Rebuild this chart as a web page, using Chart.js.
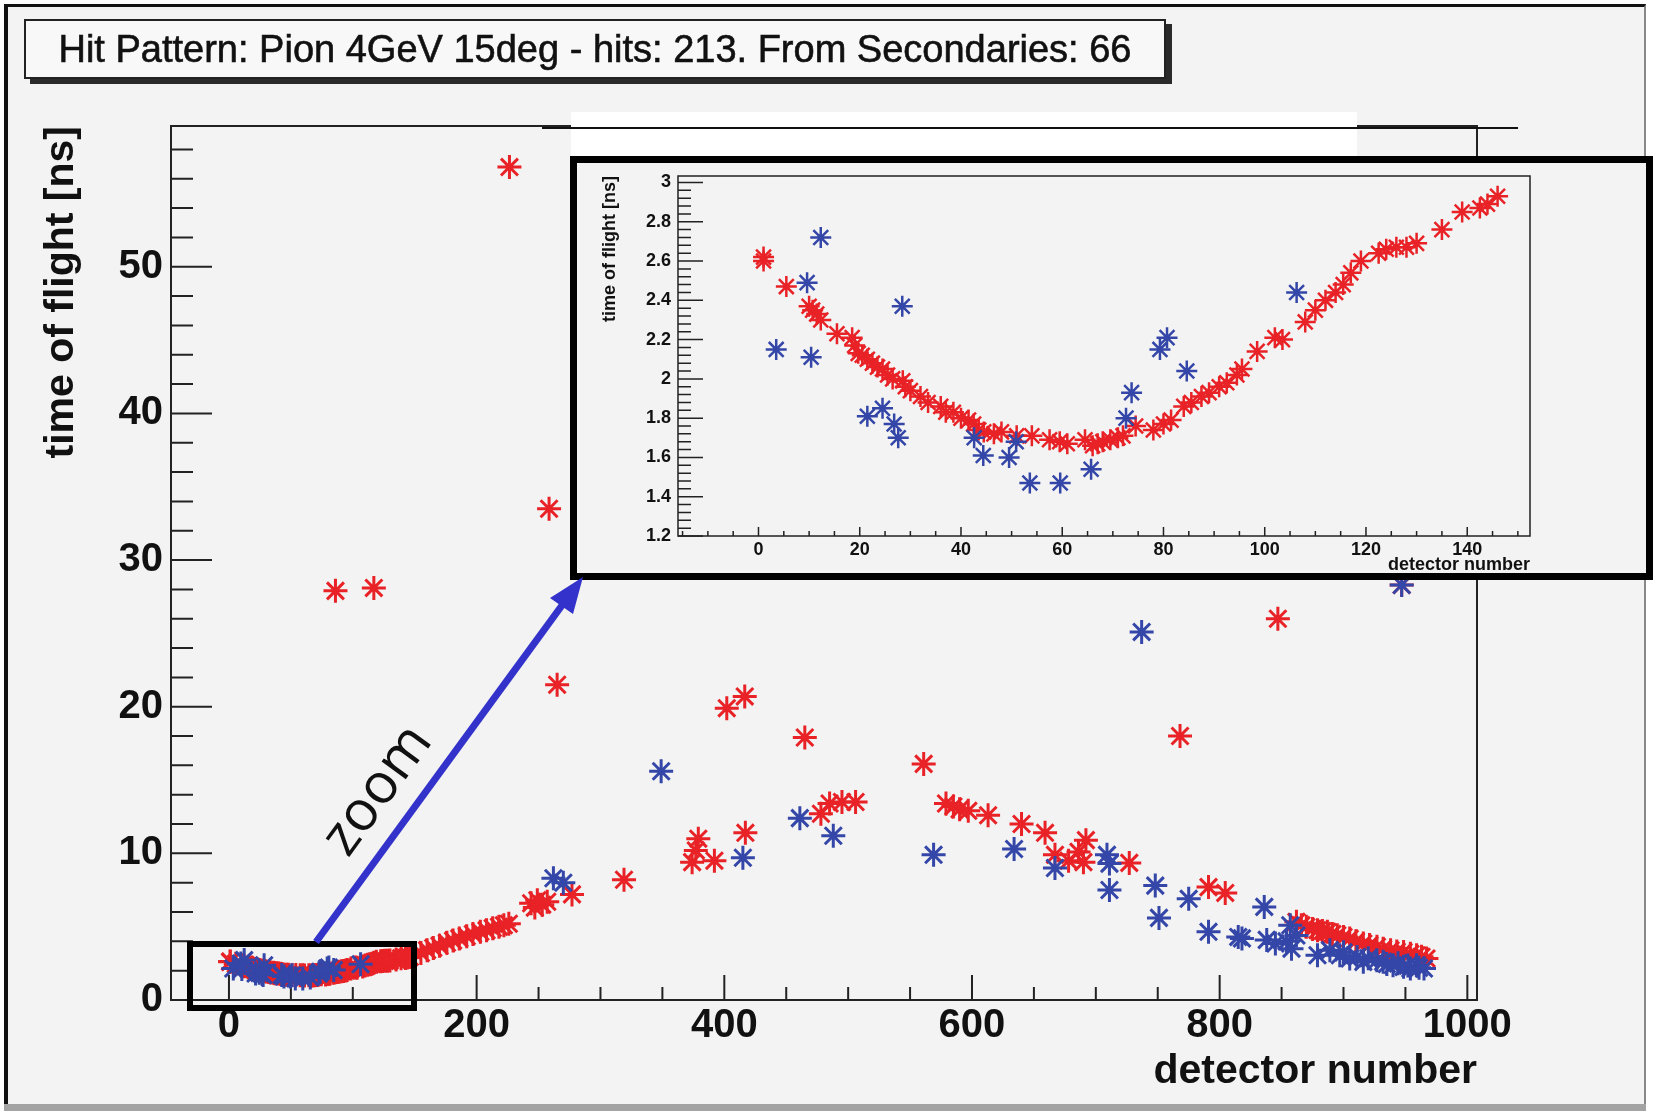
<!DOCTYPE html>
<html>
<head>
<meta charset="utf-8">
<title>Hit Pattern</title>
<script src="https://cdn.jsdelivr.net/npm/chart.js@4.4.1/dist/chart.umd.min.js"></script>
<style>
  html, body { margin: 0; padding: 0; background: #fff; }
  #page { position: relative; width: 1653px; height: 1111px; overflow: hidden; }
  #page > * { position: absolute; box-sizing: border-box; }
  #frame { left: 4px; top: 4px; width: 1642px; height: 1100px; background: #f3f3f3;
           border-left: 4px solid #111; border-top: 3px solid #111; border-right: 2px solid #888; }
  #bottomBand { left: 4px; top: 1104px; width: 1642px; height: 7px; background: #a3a3a3; }
  #mainChart { left: 0; top: 0; }
  #titleBox { left: 24px; top: 19px; width: 1142px; height: 60px; border: 2px solid #222;
              background: #f8f8f8; box-shadow: 6px 5px 0 #2a2a2a; text-align: center;
              font: 38px 'Liberation Sans', Arial, sans-serif; line-height: 56px; color: #111;
              -webkit-text-stroke: 0.6px #111; }
  #strip { left: 571px; top: 112px; width: 786px; height: 44px; background: #fff; }
  #stripLine { left: 542px; top: 127px; width: 976px; height: 2px; background: #111; }
  #zoomChart { left: 577px; top: 163px; background: #f3f3f3; }
  #insetBorder { left: 570px; top: 156px; width: 1083px; height: 424px; border: 7px solid #000; }
  #zoomRect { left: 187px; top: 941px; width: 230px; height: 70px; border: 6px solid #000; }
  #arrow { left: 0; top: 0; }
  #zoomLabel { left: 373px; top: 787px; transform: translate(-50%, -50%) rotate(-54deg);
               font: 56px 'Open Sans', Lato, sans-serif; line-height: 1; color: #111; white-space: nowrap; }
</style>
</head>
<body>
<div id="page">
  <div id="frame"></div>
  <div id="bottomBand"></div>
  <canvas id="mainChart" width="1653" height="1111"></canvas>
  <div id="titleBox"></div>
  <div id="strip"></div>
  <div id="stripLine"></div>
  <canvas id="zoomChart" width="1069" height="410"></canvas>
  <div id="insetBorder"></div>
  <div id="zoomRect"></div>
  <svg id="arrow" width="1653" height="1111">
    <line x1="316" y1="942" x2="563" y2="604" stroke="#3333cc" stroke-width="7"/>
    <polygon points="583,577 573,614 550,598" fill="#3333cc"/>
  </svg>
  <div id="zoomLabel">zoom</div>
</div>
<script>
const TITLE = "Hit Pattern: Pion 4GeV 15deg - hits: 213. From Secondaries: 66";
const X_TITLE = "detector number";
const Y_TITLE = "time of flight [ns]";

// primary hits (red)
const primDetector = [
  1, 1, 5.5, 10, 10.7, 11.5, 12.3, 15.5, 18.5, 19, 19.7, 20.5, 21.5, 22.5, 23.5, 24.5,
  25.5, 26.5, 28.5, 29, 30, 32, 33.5, 36, 37, 38.5, 40, 41.5, 42.5, 43.5, 44.5, 46.5,
  48, 51, 54, 57.5, 59.5, 61, 64.5, 66, 67, 68, 69.5, 71, 72, 74.5, 78, 80,
  81.5, 84, 85.5, 87.5, 89, 91, 92.5, 94.5, 95.5, 98.5, 102, 103.5, 108, 110,
  112, 114, 115.5, 117, 119, 122.5, 124, 126, 128, 130, 135, 139, 142.5, 144, 146,
  155, 160, 165, 170, 176, 181, 186, 192, 197, 203, 208, 213, 218, 222, 226,
  244, 247, 249, 253, 257,
  86, 117, 226.5, 258.5, 265, 277, 319, 374, 377, 379, 392, 402, 416.5, 417, 465, 478,
  485, 495, 506, 561, 579, 585, 590, 597, 613, 640, 659, 667, 678, 686, 690, 692,
  727, 768, 791, 804.5, 847, 947,
  862, 866, 870, 875, 879, 883, 887, 891, 895, 900, 905, 910, 916, 921, 927, 932,
  938, 943, 948.5, 954, 959, 963, 967
];
const primTof = [
  2.62, 2.60, 2.47, 2.37, 2.35, 2.33, 2.30, 2.23, 2.21, 2.17, 2.13, 2.12, 2.10, 2.08, 2.06, 2.05,
  2.02, 2.00, 1.99, 1.96, 1.94, 1.91, 1.88, 1.86, 1.83, 1.83, 1.80, 1.79, 1.77, 1.74, 1.73, 1.72,
  1.73, 1.71, 1.71, 1.69, 1.68, 1.67, 1.69, 1.66, 1.67, 1.68, 1.69, 1.70, 1.71, 1.76, 1.74, 1.77,
  1.79, 1.86, 1.88, 1.91, 1.93, 1.96, 1.98, 2.02, 2.05, 2.14, 2.21, 2.20, 2.29, 2.35,
  2.40, 2.44, 2.48, 2.54, 2.60, 2.64, 2.66, 2.67, 2.67, 2.69, 2.76, 2.85, 2.87, 2.89, 2.93,
  3.2, 3.4, 3.55, 3.7, 3.9, 4.05, 4.2, 4.35, 4.5, 4.65, 4.75, 4.9, 5.0, 5.1, 5.2,
  6.6, 6.3, 6.8, 6.5, 6.7,
  27.9, 28.1, 56.8, 33.5, 21.5, 7.2, 8.2, 9.4, 10.2, 11.0, 9.5, 19.9, 20.7, 11.4, 17.9, 12.7,
  13.4, 13.5, 13.5, 16.1, 13.4, 13.2, 13.0, 12.9, 12.6, 12.0, 11.4, 9.9, 9.5, 10.1, 9.4, 10.9,
  9.35, 18.0, 7.7, 7.3, 26.0, 28.3,
  5.33, 5.1, 4.99, 4.85, 4.76, 4.7, 4.65, 4.5, 4.42, 4.3, 4.19, 4.0, 3.85, 3.75, 3.63, 3.5,
  3.39, 3.3, 3.28, 3.15, 3.05, 2.95, 2.83
];

// hits from secondaries (blue)
const secDetector = [
  3.5, 9.6, 10.4, 12.3, 21.5, 24.5, 26.8, 27.6, 28.4, 42.6, 44.4, 49.5, 50.9, 53.6, 59.6, 65.7,
  72.6, 73.7, 79.3, 80.7, 84.6, 106.3,
  262, 270, 349, 415, 461, 488, 569, 634, 667, 709, 711, 711, 737, 748, 751, 775,
  791, 815, 818, 836, 838, 845, 854, 857, 858, 862, 879, 889, 897, 900, 905, 911,
  916, 920, 927, 932, 935, 940, 944, 947, 948.5, 952, 954, 959, 961, 965
];
const secTof = [
  2.15, 2.49, 2.11, 2.72, 1.81, 1.85, 1.77, 1.70, 2.37, 1.70, 1.61, 1.60, 1.68, 1.47, 1.47, 1.54,
  1.80, 1.93, 2.15, 2.21, 2.04, 2.44,
  8.3, 8.0, 15.6, 9.7, 12.4, 11.2, 9.9, 10.3, 9.0, 9.9, 9.3, 7.5, 25.1, 7.8, 5.6, 6.9,
  4.65, 4.3, 4.2, 6.35, 4.1, 3.85, 4.0, 5.1, 3.5, 4.4, 3.05, 3.4, 3.05, 3.25, 2.83, 2.94,
  2.6, 2.85, 2.71, 2.6, 2.45, 2.37, 2.5, 28.3, 2.26, 2.35, 2.15, 2.37, 2.2, 2.15
];

const mainXTicks = [0, 200, 400, 600, 800, 1000];
const mainYTicks = [0, 10, 20, 30, 40, 50];
const zoomXTicks = [0, 20, 40, 60, 80, 100, 120, 140];
const zoomYTicks = [1.2, 1.4, 1.6, 1.8, 2, 2.2, 2.4, 2.6, 2.8, 3];

const RED = "rgb(232, 34, 38)";
const BLUE = "rgb(52, 70, 168)";
const INK = "#111";
const FONT = "'Liberation Sans', Arial, sans-serif";

document.getElementById("titleBox").textContent = TITLE;

const toPoints = (xs, ys) => xs.map((x, i) => ({ x: x, y: ys[i] }));

// ROOT style frame with inward major/minor ticks
const rootFrame = {
  id: "rootFrame",
  beforeDatasetsDraw(chart, args, o) {
    const { ctx, chartArea: a, scales: { x, y } } = chart;
    ctx.save();
    ctx.strokeStyle = o.color;
    ctx.lineWidth = o.lineWidth;
    ctx.strokeRect(a.left, a.top, a.right - a.left, a.bottom - a.top);
    ctx.beginPath();
    for (let k = Math.ceil(x.min / o.xMinor - 1e-6); k * o.xMinor <= x.max + 1e-6; k++) {
      const px = x.getPixelForValue(k * o.xMinor);
      const len = k % o.xEvery === 0 ? o.xMajorLen : o.xMinorLen;
      ctx.moveTo(px, a.bottom);
      ctx.lineTo(px, a.bottom - len);
    }
    for (let k = Math.ceil(y.min / o.yMinor - 1e-6); k * o.yMinor <= y.max + 1e-6; k++) {
      const py = y.getPixelForValue(k * o.yMinor);
      const len = k % o.yEvery === 0 ? o.yMajorLen : o.yMinorLen;
      ctx.moveTo(a.left, py);
      ctx.lineTo(a.left + len, py);
    }
    ctx.lineWidth = o.tickWidth;
    ctx.stroke();
    ctx.restore();
  }
};

function makeChart(id, s) {
  const marker = (color) => ({
    showLine: false,
    pointStyle: "star",
    pointRadius: s.radius,
    pointBorderWidth: s.markerWidth,
    pointBorderColor: color,
    pointBackgroundColor: color,
    clip: s.clip
  });
  return new Chart(document.getElementById(id), {
    type: "scatter",
    data: {
      datasets: [
        Object.assign({ label: "From Secondaries", data: toPoints(secDetector, secTof), order: 0 }, marker(BLUE)),
        Object.assign({ label: "Primary", data: toPoints(primDetector, primTof), order: 1 }, marker(RED))
      ]
    },
    options: {
      responsive: false,
      animation: false,
      events: [],
      layout: { padding: s.padding },
      plugins: {
        legend: { display: false },
        tooltip: { enabled: false },
        rootFrame: s.frame
      },
      scales: {
        x: {
          type: "linear",
          bounds: "data",
          min: s.xMin,
          max: s.xMax,
          afterBuildTicks: (sc) => { sc.ticks = s.xTicks.map((v) => ({ value: v })); },
          afterFit: (sc) => { sc.height = s.xHeight; sc.paddingLeft = 0; sc.paddingRight = 0; },
          grid: { display: false, drawTicks: false, tickLength: 0 },
          border: { display: false },
          ticks: {
            autoSkip: false, maxRotation: 0, padding: s.xTickPad, color: INK,
            font: { family: FONT, size: s.tickSize, weight: "bold" },
            callback: (v) => String(v)
          },
          title: {
            display: true, text: X_TITLE, align: "end", color: INK,
            font: { family: FONT, size: s.titleSize, weight: "bold" },
            padding: { top: 0, bottom: s.xTitlePad }
          }
        },
        y: {
          type: "linear",
          bounds: "data",
          min: s.yMin,
          max: s.yMax,
          afterBuildTicks: (sc) => { sc.ticks = s.yTicks.map((v) => ({ value: v })); },
          afterFit: (sc) => { sc.width = s.yWidth; sc.paddingTop = 0; sc.paddingBottom = 0; },
          grid: { display: false, drawTicks: false, tickLength: 0 },
          border: { display: false },
          ticks: {
            autoSkip: false, padding: s.yTickPad, color: INK,
            font: { family: FONT, size: s.tickSize, weight: "bold" },
            callback: (v) => String(v)
          },
          title: {
            display: true, text: Y_TITLE, align: "end", color: INK,
            font: { family: FONT, size: s.titleSize, weight: "bold" },
            padding: { top: s.yTitlePad, bottom: 0 }
          }
        }
      }
    },
    plugins: [rootFrame]
  });
}

// full range
makeChart("mainChart", {
  xMin: -46.8, xMax: 1007.8, yMin: 0, yMax: 59.6,
  xTicks: mainXTicks, yTicks: mainYTicks,
  padding: { left: 0, right: 176, top: 126, bottom: 0 },
  xHeight: 111, yWidth: 171,
  tickSize: 40, titleSize: 41,
  xTickPad: 2, yTickPad: 8, xTitlePad: 15, yTitlePad: 37,
  radius: 12, markerWidth: 3, clip: undefined,
  frame: { color: "#222", lineWidth: 2, tickWidth: 2,
           xMinor: 50, xEvery: 4, xMajorLen: 25, xMinorLen: 13,
           yMinor: 2, yEvery: 5, yMajorLen: 41, yMinorLen: 22 }
});

// zoom on the first detectors
makeChart("zoomChart", {
  xMin: -15.9, xMax: 152.4, yMin: 1.2, yMax: 3.033,
  xTicks: zoomXTicks, yTicks: zoomYTicks,
  padding: { left: 0, right: 116, top: 3, bottom: 0 },
  xHeight: 37, yWidth: 101,
  tickSize: 18, titleSize: 18,
  xTickPad: 3, yTickPad: 7, xTitlePad: -3, yTitlePad: 22,
  radius: 10.5, markerWidth: 2.5, clip: 0,
  frame: { color: "#222", lineWidth: 1.5, tickWidth: 1.5,
           xMinor: 5, xEvery: 4, xMajorLen: 9, xMinorLen: 5,
           yMinor: 0.04, yEvery: 5, yMajorLen: 25, yMinorLen: 13 }
});
</script>
</body>
</html>
